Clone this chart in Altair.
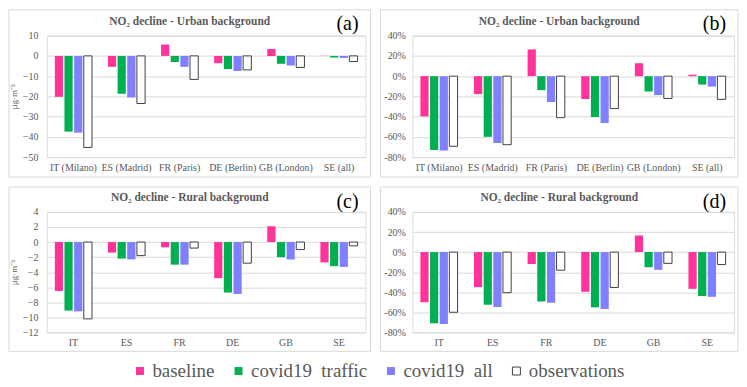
import altair as alt
import pandas as pd

urban_cats = ["IT (Milano)", "ES (Madrid)", "FR (Paris)", "DE (Berlin)", "GB (London)", "SE (all)"]
rural_cats = ["IT", "ES", "FR", "DE", "GB", "SE"]
series = ["baseline", "covid19\u00a0 traffic", "covid19\u00a0 all", "observations"]
series_fill = ["#FF3399", "#00B050", "#7F7FFF", "#FFFFFF"]
series_stroke = ["transparent", "transparent", "transparent", "#404040"]

# (a) Urban background, ug m-3
urban_abs_baseline = [-20.2, -5.4, 5.6, -3.6, 3.4, 0.1]
urban_abs_traffic = [-37.4, -18.7, -3.0, -6.5, -3.9, -0.8]
urban_abs_all = [-37.9, -20.5, -5.4, -7.5, -4.7, -1.0]
urban_abs_obs = [-45.2, -23.5, -11.6, -6.9, -5.7, -2.8]

# (b) Urban background, %
urban_pct_baseline = [-39.8, -17.7, 26.4, -22.6, 12.7, 1.4]
urban_pct_traffic = [-72.9, -59.9, -13.8, -40.4, -15.1, -8.3]
urban_pct_all = [-73.5, -66.0, -25.5, -46.3, -18.7, -10.3]
urban_pct_obs = [-69.3, -67.7, -41.0, -32.0, -22.0, -22.9]

# (c) Rural background, ug m-3
rural_abs_baseline = [-6.5, -1.4, -0.7, -4.8, 2.1, -2.7]
rural_abs_traffic = [-9.1, -2.2, -3.0, -6.7, -2.0, -3.2]
rural_abs_all = [-9.2, -2.3, -3.0, -6.9, -2.3, -3.3]
rural_abs_obs = [-10.2, -1.8, -0.8, -2.8, -1.0, -0.5]

# (d) Rural background, %
rural_pct_baseline = [-49.9, -34.9, -11.9, -39.4, 16.6, -36.6]
rural_pct_traffic = [-70.9, -52.4, -49.2, -55.0, -15.2, -43.8]
rural_pct_all = [-71.6, -54.7, -50.5, -56.6, -17.7, -44.5]
rural_pct_obs = [-59.9, -40.4, -18.0, -35.2, -11.2, -12.4]

abs_ticks_urban = [-50, -40, -30, -20, -10, 0, 10]
abs_ticks_rural = [-12, -10, -8, -6, -4, -2, 0, 2, 4]
pct_ticks = [-80, -60, -40, -20, 0, 20, 40]

title_urban = "NO\u2082 decline - Urban background"
title_rural = "NO\u2082 decline - Rural background"
unit_title = "\u00b5g\u00b7m\u207b\u00b3"

SERIF = "Liberation Serif"
GREY = "#595959"


def make_df(cats, cols):
    rows = []
    for s, vals in zip(series, cols):
        for c, v in zip(cats, vals):
            rows.append({"cat": c, "series": s, "value": v})
    return pd.DataFrame(rows)


# legend position is relative to the plot origin of panel (a)
legend_kw = dict(
    title=None, orient="none", legendX=84, legendY=327, direction="horizontal",
    symbolType="square", symbolSize=64, symbolStrokeWidth=1,
    labelFont=SERIF, labelFontSize=19, labelColor=GREY,
    columnPadding=14, labelOffset=3,
)


def panel(df, cats, w, h, il, ir, it, ib, yticks, pct, ytitle, title, tag, lpad, tag_y):
    one = pd.DataFrame({"k": [0]})
    frame = alt.Chart(one).mark_rect(fill="transparent", stroke="#D9D9D9", strokeWidth=1).encode(
        x=alt.value(-il), x2=alt.value(w + ir), y=alt.value(-it), y2=alt.value(h + ib)
    )
    if pct:
        yaxis = alt.Axis(
            values=yticks, title=None, grid=True, gridColor="#D9D9D9", gridWidth=1,
            domain=False, ticks=False, labelFont=SERIF, labelFontSize=10, labelColor=GREY,
            labelPadding=lpad, labelExpr="datum.value + '%'",
        )
    else:
        yaxis = alt.Axis(
            values=yticks, title=ytitle, grid=True, gridColor="#D9D9D9", gridWidth=1,
            domain=False, ticks=False, labelFont=SERIF, labelFontSize=10, labelColor=GREY,
            labelPadding=lpad, titleFont=SERIF, titleFontSize=9, titleColor=GREY,
            titleFontWeight="normal", titlePadding=4,
        )
    bars = alt.Chart(df).mark_bar(strokeWidth=1).encode(
        x=alt.X("cat:N", sort=cats,
                scale=alt.Scale(paddingInner=0.3, paddingOuter=0.15),
                axis=alt.Axis(title=None, labelAngle=0, labelFont=SERIF, labelFontSize=10,
                              labelColor=GREY, labelPadding=5, ticks=False, domain=False,
                              grid=False)),
        xOffset=alt.XOffset("series:N", sort=series,
                            scale=alt.Scale(paddingInner=0.15, paddingOuter=0)),
        y=alt.Y("value:Q", scale=alt.Scale(domain=[yticks[0], yticks[-1]], nice=False),
                axis=yaxis),
        fill=alt.Fill("series:N", sort=series,
                      scale=alt.Scale(domain=series, range=series_fill),
                      legend=alt.Legend(**legend_kw)),
        stroke=alt.Stroke("series:N", sort=series,
                          scale=alt.Scale(domain=series, range=series_stroke),
                          legend=alt.Legend(**legend_kw)),
    )
    fw = il + w + ir
    cx = fw / 2 - il
    ttl = alt.Chart(one).mark_text(
        text=title, font=SERIF, fontWeight="bold", fontSize=11.5, color=GREY,
        align="center", baseline="middle",
    ).encode(x=alt.value(cx), y=alt.value(-14))
    lab = alt.Chart(one).mark_text(
        text=tag, font=SERIF, fontSize=20, color="#000000", align="right", baseline="middle",
    ).encode(x=alt.value(w + ir - 12), y=alt.value(tag_y))
    return alt.layer(frame, bars, ttl, lab).properties(width=w, height=h)


pa = panel(make_df(urban_cats, [urban_abs_baseline, urban_abs_traffic, urban_abs_all, urban_abs_obs]),
           urban_cats, 320, 122, 38, 5, 26, 20, abs_ticks_urban, False, unit_title, title_urban, "(a)", 9, -12)
pb = panel(make_df(urban_cats, [urban_pct_baseline, urban_pct_traffic, urban_pct_all, urban_pct_obs]),
           urban_cats, 323, 122, 32, 4, 26, 20, pct_ticks, True, None, title_urban, "(b)", 7, -12)
pc = panel(make_df(rural_cats, [rural_abs_baseline, rural_abs_traffic, rural_abs_all, rural_abs_obs]),
           rural_cats, 320, 121, 38, 5, 25, 19, abs_ticks_rural, False, unit_title, title_rural, "(c)", 9, -10)
pd_ = panel(make_df(rural_cats, [rural_pct_baseline, rural_pct_traffic, rural_pct_all, rural_pct_obs]),
            rural_cats, 323, 121, 32, 4, 25, 19, pct_ticks, True, None, title_rural, "(d)", 7, -10)

chart = alt.vconcat(
    alt.hconcat(pa, pb, spacing=8),
    alt.hconcat(pc, pd_, spacing=8),
    spacing=8,
).properties(padding=0).configure_view(strokeWidth=0).configure(
    background="white"
).configure_axis(labelFont=SERIF, titleFont=SERIF).configure_legend(labelFont=SERIF)

chart.save("out.html", embed_options={"renderer": "svg", "actions": False})
